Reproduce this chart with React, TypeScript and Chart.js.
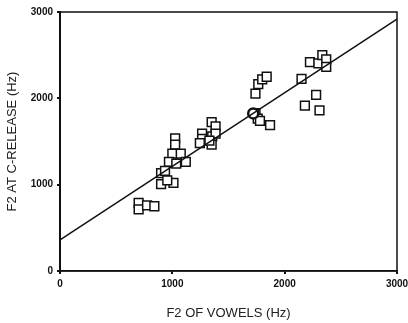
import React, { useEffect, useRef } from "react";
import { Chart, registerables } from "chart.js";

Chart.register(...registerables);

// F2 of vowels (Hz) — x values of squares
const vowelF2 = [
  700, 700, 775, 840,
  1025, 1025, 1000, 1075, 970, 1035, 1120, 900, 935, 900, 1010, 955,
  1350, 1385, 1265, 1265, 1245, 1355, 1385, 1350, 1330,
  1740, 1760, 1780, 1870, 1740, 1765, 1800, 1840,
  2150, 2180, 2280, 2310, 2225, 2300, 2335, 2370, 2370,
];
// F2 at C-release (Hz) — y values of squares
const releaseF2 = [
  790, 715, 760, 750,
  1535, 1465, 1360, 1360, 1265, 1245, 1265, 1135, 1160, 1005, 1020, 1050,
  1725, 1675, 1590, 1530, 1480, 1560, 1590, 1465, 1510,
  1830, 1765, 1740, 1690, 2055, 2165, 2220, 2250,
  2225, 1915, 2040, 1860, 2420, 2405, 2500, 2450, 2365,
];
// circled point
const circleX = [1720];
const circleY = [1825];
// regression line endpoints
const lineX = [0, 3000];
const lineY = [360, 2917];

const xTicks = [0, 1000, 2000, 3000];
const yTicks = [0, 1000, 2000, 3000];

const boxPlugin = {
  id: "box",
  afterDatasetsDraw(chart: any) {
    const { ctx, chartArea } = chart;
    ctx.save();
    ctx.strokeStyle = "#111";
    ctx.lineWidth = 1.5;
    ctx.strokeRect(chartArea.left, chartArea.top, chartArea.right - chartArea.left, chartArea.bottom - chartArea.top);
    ctx.restore();
  },
};

export default function App() {
  const ref = useRef<HTMLCanvasElement | null>(null);
  useEffect(() => {
    if (!ref.current) return;
    const chart = new Chart(ref.current, {
      type: "scatter",
      data: {
        datasets: [
          {
            label: "fit",
            data: lineX.map((x, i) => ({ x, y: lineY[i] })),
            showLine: true,
            borderColor: "#111",
            borderWidth: 1.6,
            pointRadius: 0,
          },
          {
            label: "circle",
            data: circleX.map((x, i) => ({ x, y: circleY[i] })),
            pointStyle: "circle",
            pointRadius: 5,
            borderColor: "#111",
            borderWidth: 2.5,
            backgroundColor: "#fff",
          },
          {
            label: "tokens",
            data: vowelF2.map((x, i) => ({ x, y: releaseF2[i] })),
            pointStyle: "rect",
            pointRadius: 6.2,
            borderColor: "#111",
            borderWidth: 1.5,
            backgroundColor: "#fff",
          },
        ],
      },
      options: {
        animation: false,
        responsive: false,
        layout: { padding: { left: 0, right: 11, top: 12, bottom: 0 } },
        plugins: { legend: { display: false }, tooltip: { enabled: false } },
        scales: {
          x: {
            type: "linear",
            min: 0,
            max: 3000,
            afterBuildTicks: (s: any) => {
              s.ticks = xTicks.map((v) => ({ value: v }));
            },
            afterFit: (s: any) => {
              s.height = 52;
              s.paddingRight = 0;
              s.paddingLeft = 0;
            },
            ticks: {
              color: "#111",
              font: { family: "'Liberation Sans', Arial", size: 10, weight: "bold" },
              padding: 4,
              maxRotation: 0,
              callback: (v: any) => String(v),
            },
            grid: { display: true, drawOnChartArea: false, drawTicks: true, tickLength: 3, color: "#111", lineWidth: 2 },
            border: { display: true, color: "#111", width: 1.5 },
            title: {
              display: true,
              text: "F2 OF VOWELS (Hz)",
              color: "#222",
              font: { family: "'Liberation Sans', Arial", size: 13 },
              padding: { top: 0, bottom: 2 },
            },
          },
          y: {
            type: "linear",
            min: 0,
            max: 3000,
            afterBuildTicks: (s: any) => {
              s.ticks = yTicks.map((v) => ({ value: v }));
            },
            afterFit: (s: any) => {
              s.width = 60;
              s.paddingTop = 0;
              s.paddingBottom = 0;
            },
            ticks: {
              color: "#111",
              font: { family: "'Liberation Sans', Arial", size: 10, weight: "bold" },
              padding: 4,
              callback: (v: any) => String(v),
            },
            grid: { display: true, drawOnChartArea: false, drawTicks: true, tickLength: 3, color: "#111", lineWidth: 2 },
            border: { display: true, color: "#111", width: 2 },
            title: {
              display: true,
              text: "F2 AT C-RELEASE (Hz)",
              color: "#222",
              font: { family: "'Liberation Sans', Arial", size: 13 },
              padding: { top: 5, bottom: 0 },
            },
          },
        },
      },
      plugins: [boxPlugin],
    });
    return () => chart.destroy();
  }, []);
  return (
    <div style={{ position: "fixed", left: 0, top: 0, width: 408, height: 323, background: "#fff" }}>
      <canvas ref={ref} width={408} height={323} style={{ width: 408, height: 323, display: "block" }} />
    </div>
  );
}
